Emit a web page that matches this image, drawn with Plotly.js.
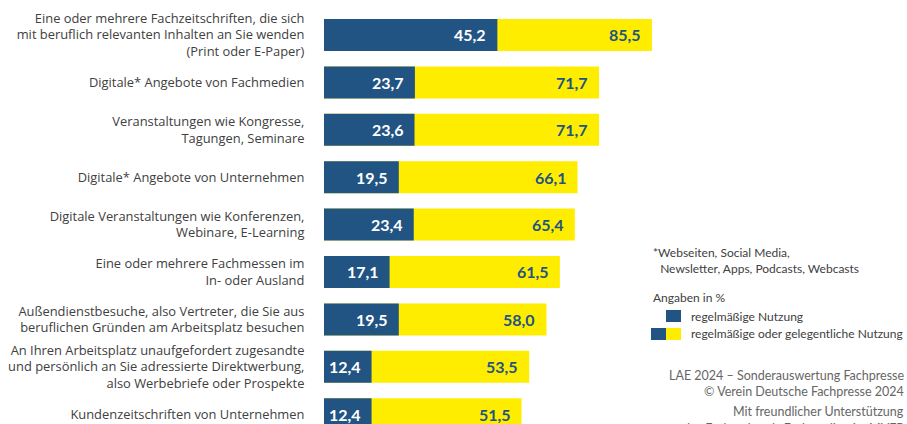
<!DOCTYPE html>
<html><head><meta charset="utf-8">
<script src="https://cdn.plot.ly/plotly-3.0.1.min.js"></script>
<style>html,body{margin:0;padding:0;background:#fff}#chart{width:907px;height:424px}</style>
</head><body><div id="chart"></div>
<script>
const categories = [
  "Eine oder mehrere Fachzeitschriften, die sich<br>mit beruflich relevanten Inhalten an Sie wenden<br>(Print oder E-Paper)",
  "Digitale* Angebote von Fachmedien",
  "Veranstaltungen wie Kongresse,<br>Tagungen, Seminare",
  "Digitale* Angebote von Unternehmen",
  "Digitale Veranstaltungen wie Konferenzen,<br>Webinare, E-Learning",
  "Eine oder mehrere Fachmessen im<br>In- oder Ausland",
  "Außendienstbesuche, also Vertreter, die Sie aus<br>beruflichen Gründen am Arbeitsplatz besuchen",
  "An Ihren Arbeitsplatz unaufgefordert zugesandte<br>und persönlich an Sie adressierte Direktwerbung,<br>also Werbebriefe oder Prospekte",
  "Kundenzeitschriften von Unternehmen"
];
const regelmaessig = [45.2, 23.7, 23.6, 19.5, 23.4, 17.1, 19.5, 12.4, 12.4];
const regelmaessigOderGelegentlich = [85.5, 71.7, 71.7, 66.1, 65.4, 61.5, 58.0, 53.5, 51.5];
const legendLabels = ["regelmäßige Nutzung", "regelmäßige oder gelegentliche Nutzung"];

const BLUE = "#215483", YELLOW = "#ffed00", TXT = "#404040";
const idx = categories.map((_, i) => i);
const fmt = v => v.toFixed(1).replace(".", ",");

const traces = [
  {type:"bar", orientation:"h", y:idx, x:regelmaessigOderGelegentlich, marker:{color:YELLOW}, width:0.675, hoverinfo:"skip", name:legendLabels[1]},
  {type:"bar", orientation:"h", y:idx, x:regelmaessig, marker:{color:BLUE}, width:0.675, hoverinfo:"skip", name:legendLabels[0]}
];

const annotations = [];
idx.forEach(i => {
  annotations.push({x:regelmaessig[i], y:i, xref:"x", yref:"y", text:"<b>"+fmt(regelmaessig[i])+"</b>", showarrow:false, xanchor:"right", xshift:-9, font:{family:"Lato, sans-serif", size:16, color:"#ffffff"}});
  annotations.push({x:regelmaessigOderGelegentlich[i], y:i, xref:"x", yref:"y", text:"<b>"+fmt(regelmaessigOderGelegentlich[i])+"</b>", showarrow:false, xanchor:"right", xshift:-9, font:{family:"Lato, sans-serif", size:16, color:BLUE}});
});
// paper coords: x 0..1 -> 324..907 px ; y 0..1 -> 424..0 px
const px = x => (x - 324) / 583;
const py = y => 1 - y / 424;
const small = {family:"Lato, sans-serif", size:12, color:TXT};
const addText = (t, x, y, anchor, font) => annotations.push({text:t, x:px(x), y:py(y), xref:"paper", yref:"paper", showarrow:false, xanchor:anchor, yanchor:"middle", font:font||small});
addText("*Webseiten, Social Media,", 651, 252, "left");
addText("  Newsletter, Apps, Podcasts, Webcasts", 652, 268, "left");
addText("Angaben in %", 651, 297, "left");
addText(legendLabels[0], 689, 316, "left");
addText(legendLabels[1], 689, 333, "left");
const foot = {family:"Lato, sans-serif", size:12.5, color:"#666"};
addText("LAE 2024 – Sonderauswertung Fachpresse", 906, 375, "right", foot);
addText("© Verein Deutsche Fachpresse 2024", 906, 391, "right", foot);
addText("Mit freundlicher Unterstützung", 906, 411, "right", foot);
addText("des Fachverbands Fachmedien im MVFP", 906, 428, "right", foot);

const rect = (x0,y0,x1,y1,c) => ({type:"rect", xref:"paper", yref:"paper", x0:px(x0), x1:px(x1), y0:py(y1), y1:py(y0), fillcolor:c, line:{width:0}});
const shapes = [
  rect(666,310,681,322,BLUE),
  rect(651,328,666,340,BLUE),
  rect(666,328,681,340,YELLOW)
];

const layout = {
  width:907, height:424,
  margin:{l:324, r:0, t:0, b:0},
  paper_bgcolor:"#fff", plot_bgcolor:"#fff",
  barmode:"overlay", showlegend:false,
  xaxis:{range:[0,152], visible:false, fixedrange:true},
  yaxis:{range:[8.207,-0.738], tickmode:"array", tickvals:idx, ticktext:categories,
         ticks:"outside", ticklen:16, tickcolor:"rgba(0,0,0,0)", showgrid:false, zeroline:false, showline:false,
         tickfont:{family:"'Open Sans'", size:12.9, color:TXT}},
  annotations, shapes
};
Plotly.newPlot("chart", traces, layout, {displayModeBar:false, staticPlot:true});
</script></body></html>
